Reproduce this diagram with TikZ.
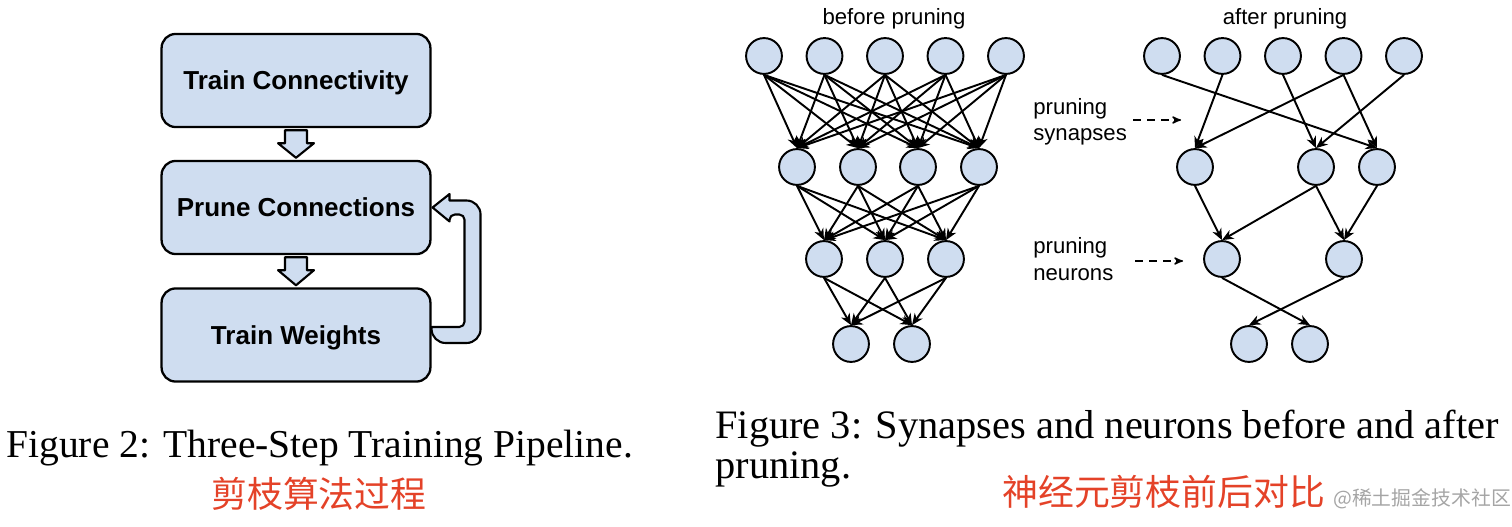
\documentclass[tikz,border=0pt]{standalone}
\usepackage{fontspec}
\setmainfont{Liberation Serif}
\setsansfont{Liberation Sans}
\newfontfamily\cjk{Noto Sans CJK SC}
\usetikzlibrary{positioning,calc}
\usetikzlibrary{arrows,arrows.meta}

\definecolor{boxblue}{RGB}{207,221,240}
\definecolor{notered}{RGB}{228,66,40}
\definecolor{markgray}{RGB}{165,165,165}

\tikzset{
  stepbox/.style={draw, line width=1.3pt, rounded corners=8pt, fill=boxblue, minimum width=153pt, minimum height=53pt, text height=10.6pt, text depth=0pt, font=\sffamily\bfseries\fontsize{14.8}{17}\selectfont},
  flow/.style={draw, line width=1.2pt, fill=boxblue, line join=round},
  neuron/.style={circle, draw, line width=1.1pt, fill=boxblue, minimum size=20.4pt, inner sep=0pt},
  syn/.style={-{Stealth[length=6.5pt, width=5.5pt, inset=2pt]}, line width=1.1pt},
  netlabel/.style={font=\sffamily\fontsize{12.6}{15.3}\selectfont, inner sep=0pt},
  prunearrow/.style={->, line width=0.8pt, dash pattern=on 4.5pt off 3.5pt},
}

\begin{document}
\begin{tikzpicture}[>=stealth', x=0.02cm, y=-0.02cm]
\useasboundingbox (0,0) rectangle (1512,527);

% three-step pipeline
\node[stepbox] (tc) at (296,80.5) {Train Connectivity};
\node[stepbox] (pc) at (296,207.5) {Prune Connections};
\node[stepbox] (tw) at (296,335) {Train Weights};
\draw[flow] ($(tc.south)+(-11,2)$) -- ++(22,0) -- ++(0,13) -- ++(7,0) -- ($(pc.north)+(0,-2)$) -- ($(tc.south)+(-18,15)$) -- ++(7,0) -- cycle;
\draw[flow] ($(pc.south)+(-11,2)$) -- ++(22,0) -- ++(0,13) -- ++(7,0) -- ($(tw.north)+(0,-2)$) -- ($(pc.south)+(-18,15)$) -- ++(7,0) -- cycle;
\draw[flow] ($(tw.east)+(0,-8)$) [rounded corners=3pt] -- ++(33,0) |- ($(pc.east)+(18,7)$) [sharp corners] -- ++(0,7) -- ($(pc.east)+(1,0)$) -- ++(17,-13.5) -- ++(0,6.5) [rounded corners=8pt] -- ++(31,0) |- ($(tw.east)+(0,8)$) [sharp corners] -- cycle;

% before pruning
\node[netlabel, anchor=base] (bp) at (894,25) {before pruning};
\foreach \x [count=\i] in {764,824.5,885,945.5,1006} \node[neuron] (b1\i) at (\x,56) {};
\foreach \x [count=\i] in {797,858,918,979} \node[neuron] (b2\i) at (\x,167) {};
\foreach \x [count=\i] in {824,885,946} \node[neuron] (b3\i) at (\x,259) {};
\foreach \x [count=\i] in {851,912} \node[neuron] (b4\i) at (\x,344) {};
\foreach \i in {1,...,5} \foreach \j in {1,...,4} \draw[syn] (b1\i.south) -- (b2\j.north);
\foreach \i in {1,...,4} \foreach \j in {1,...,3} \draw[syn] (b2\i.south) -- (b3\j.north);
\foreach \i in {1,...,3} \foreach \j in {1,2} \draw[syn] (b3\i.south) -- (b4\j.north);

% after pruning
\node[netlabel, anchor=base] (ap) at (1285,25) {after pruning};
\foreach \x [count=\i] in {764,824.5,885,945.5,1006} \node[neuron] (a1\i) at (\x+398,56) {};
\foreach \x [count=\i] in {797,918,979} \node[neuron] (a2\i) at (\x+398,167) {};
\foreach \x [count=\i] in {824,946} \node[neuron] (a3\i) at (\x+398,259) {};
\foreach \x [count=\i] in {851,912} \node[neuron] (a4\i) at (\x+398,344) {};
\draw[syn] (a11.south) -- (a23.north);
\draw[syn] (a12.south) -- (a21.north);
\draw[syn] (a13.south) -- (a22.north);
\draw[syn] (a14.south) -- (a21.north);
\draw[syn] (a14.south) -- (a23.north);
\draw[syn] (a15.south) -- (a22.north);
\draw[syn] (a21.south) -- (a31.north);
\draw[syn] (a22.south) -- (a31.north);
\draw[syn] (a22.south) -- (a32.north);
\draw[syn] (a23.south) -- (a32.north);
\draw[syn] (a31.south) -- (a42.north);
\draw[syn] (a32.south) -- (a41.north);

% labels in the middle
\node[netlabel, anchor=base west, align=left] (ps) at (1033,141) {pruning\\synapses};
\node[netlabel, anchor=base west, align=left] (pn) at (1033,280) {pruning\\neurons};
\coordinate (ps1) at (1133,120);
\coordinate (ps2) at (1181,120);
\coordinate (pn1) at (1135,261);
\coordinate (pn2) at (1183,261);
\draw[prunearrow] (ps1) -- (ps2);
\draw[prunearrow] (pn1) -- (pn2);

% captions
\node[anchor=base west, inner sep=0pt, font=\fontsize{22.5}{27}\selectfont] (cap2) at (6,457) {Figure 2: Three-Step Training Pipeline.};
\node[anchor=base west, inner sep=0pt, align=left, font=\fontsize{23}{22.7}\selectfont] (cap3) at (715,478) {Figure 3: Synapses and neurons before and after\\pruning.};
\node[anchor=west, inner sep=0pt, text=notered, font=\cjk\fontsize{20.4}{24}\selectfont] (zh2) at (211,494) {剪枝算法过程};
\node[anchor=west, inner sep=0pt, text=notered, font=\cjk\fontsize{20.4}{24}\selectfont] (zh3) at (1002,492) {神经元剪枝前后对比};
\node[anchor=west, inner sep=0pt, text=markgray, font=\cjk\fontsize{11.3}{13}\selectfont] (wm) at (1333,499) {@稀土掘金技术社区};
\end{tikzpicture}
\end{document}
